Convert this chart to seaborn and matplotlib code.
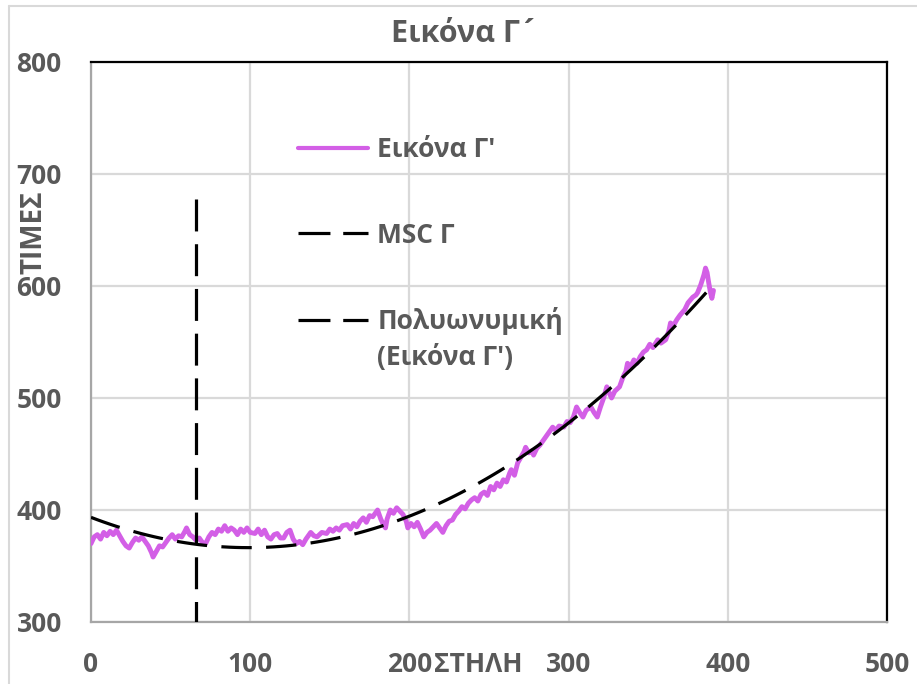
import numpy as np
import pandas as pd
import matplotlib
matplotlib.use("Agg")
import matplotlib.pyplot as plt
from matplotlib.lines import Line2D
import seaborn as sns

# ---------------- data ----------------
x_vals = [0, 2, 4, 6, 8, 10, 12, 14, 16, 18, 20, 22, 24, 26, 28, 30, 32, 34, 36, 38, 39,
          41, 43, 45, 47, 49, 51, 53, 55, 57, 59, 60, 62, 64, 66, 68, 70, 72, 74, 76, 78,
          80, 82, 84, 86, 88, 90, 92, 94, 96, 98, 100, 103, 105, 107, 109, 111, 113, 115,
          117, 119, 121, 123, 125, 127, 129, 131, 133, 135, 138, 140, 142, 145, 148, 150,
          152, 154, 156, 158, 161, 163, 165, 167, 169, 171, 173, 175, 177, 179, 180, 182,
          184, 185, 186, 188, 190, 192, 194, 196, 198, 199, 201, 203, 205, 207, 209, 211,
          213, 215, 217, 219, 221, 223, 225, 227, 229, 231, 233, 235, 237, 239, 241, 243,
          245, 247, 249, 251, 253, 255, 257, 259, 261, 263, 264, 266, 268, 270, 272, 273,
          275, 277, 278, 280, 282, 284, 286, 288, 290, 292, 294, 297, 299, 301, 303, 305,
          307, 309, 311, 313, 314, 316, 318, 320, 322, 324, 326, 327, 329, 332, 334, 336,
          337, 339, 341, 343, 345, 347, 349, 351, 353, 356, 358, 361, 363, 364, 366, 368,
          370, 373, 375, 378, 380, 381, 383, 385, 386, 387, 388, 389, 390, 391]
y_vals = [370, 376, 378, 374, 380, 377, 381, 378, 382, 377, 372, 368, 366, 371, 375, 373,
          376, 372, 368, 362, 358, 363, 368, 367, 371, 375, 378, 374, 377, 376, 381, 384,
          378, 376, 373, 375, 371, 370, 376, 380, 378, 383, 381, 386, 381, 384, 382, 378,
          383, 380, 384, 380, 379, 383, 378, 382, 376, 374, 378, 379, 375, 375, 380, 382,
          374, 370, 372, 369, 374, 380, 377, 376, 380, 379, 383, 381, 384, 382, 386, 387,
          383, 388, 385, 390, 393, 389, 395, 394, 398, 400, 392, 386, 384, 392, 400, 397,
          402, 399, 396, 390, 384, 388, 385, 389, 383, 376, 380, 382, 385, 388, 384, 380,
          386, 390, 391, 396, 399, 403, 401, 406, 409, 411, 408, 414, 416, 413, 421, 418,
          424, 421, 427, 425, 433, 436, 431, 442, 447, 452, 456, 451, 453, 449, 455, 458,
          462, 466, 470, 474, 471, 475, 474, 479, 478, 483, 492, 487, 483, 489, 491, 492,
          487, 483, 492, 500, 510, 503, 500, 506, 510, 518, 524, 531, 528, 534, 531, 537,
          541, 543, 548, 545, 552, 549, 552, 560, 567, 565, 570, 574, 579, 585, 590, 592,
          594, 601, 610, 616, 612, 603, 595, 589, 596]

msc_x = [66, 66]
msc_y = [678, 300]

x_ticks = [0, 100, 200, 300, 400, 500]
y_ticks = [300, 400, 500, 600, 700, 800]

title = "Εικόνα Γ\u00b4"
series_label = "Εικόνα Γ'"
msc_label = "MSC Γ"
trend_label_1 = "Πολυωνυμική"
trend_label_2 = "(Εικόνα Γ')"
x_label = "ΣΤΗΛΗ"
y_label = "ΤΙΜΕΣ"

# ---------------- style ----------------
sns.set_style("white")
plt.rcParams['font.family'] = ['Open Sans', 'DejaVu Sans']
plt.rcParams['font.weight'] = 'bold'

TXT = "#595959"
PINK = "#D35FE6"
GRID = "#D9D9D9"

W, H = 917, 684
fig = plt.figure(figsize=(W / 100, H / 100), dpi=100)
ax = fig.add_axes([91 / W, 1 - 622 / H, (887 - 91) / W, (622 - 62) / H])

df = pd.DataFrame({"x": x_vals, "y": y_vals})

sns.lineplot(data=df, x="x", y="y", ax=ax, color=PINK, lw=3.5, sort=False,
             estimator=None, zorder=3)
sns.regplot(data=df, x="x", y="y", ax=ax, order=2, ci=None, scatter=False,
            truncate=True,
            line_kws=dict(color="black", lw=2.3, dashes=(9.5, 4.5), zorder=4))
sns.lineplot(x=msc_x, y=msc_y, ax=ax, color="black", lw=2.3, dashes=(10, 4),
             estimator=None, sort=False, zorder=4)

ax.set_xlim(0, 500)
ax.set_ylim(300, 800)
ax.set_xticks(x_ticks)
ax.set_yticks(y_ticks)
ax.set_xticklabels([str(t) for t in x_ticks])
ax.set_yticklabels([str(t) for t in y_ticks])
ax.tick_params(axis='both', length=0, labelsize=19, labelcolor=TXT, pad=21)
for lab in ax.get_xticklabels() + ax.get_yticklabels():
    lab.set_fontweight('bold')
ax.set_xlabel("")
ax.set_ylabel("")
ax.grid(True, color=GRID, lw=1.6)
ax.set_axisbelow(True)

for side in ['left', 'bottom']:
    ax.spines[side].set_color("#A6A6A6")
    ax.spines[side].set_linewidth(1.6)
for side in ['top', 'right']:
    ax.spines[side].set_color("black")
    ax.spines[side].set_linewidth(1.6)

# legend
handles = [Line2D([], [], color=PINK, lw=3),
           Line2D([], [], color="black", lw=2.3, dashes=(10, 4)),
           Line2D([], [], color="black", lw=2.3, dashes=(10, 4))]
labels = [series_label, msc_label, trend_label_1]
leg = ax.legend(handles, labels, loc="upper left",
                bbox_to_anchor=(298 / W, 1 - 136 / H), bbox_transform=fig.transFigure,
                frameon=False, fontsize=19, handlelength=2.65, handletextpad=0.35,
                labelspacing=2.22, borderpad=0, borderaxespad=0)
for t in leg.get_texts():
    t.set_color(TXT)
    t.set_fontweight('bold')

fig.canvas.draw()
bb = leg.get_texts()[2].get_window_extent()
fig.text(bb.x0 / W, (bb.y0 - 36) / H, trend_label_2, fontsize=19, color=TXT,
         fontweight='bold', ha='left', va='bottom')

fig.text(465 / W, 1 - 34 / H, title, fontsize=22, color=TXT, fontweight='bold',
         ha='center', va='center')

# x label placed right after the "200" tick label
tl200 = ax.get_xticklabels()[2].get_window_extent()
fig.text((tl200.x1 + 2) / W, (tl200.y0 + tl200.y1) / 2 / H, x_label, fontsize=19,
         color=TXT, fontweight='bold', ha='left', va='center')
fig.text(34 / W, 1 - 232 / H, y_label, fontsize=20, color=TXT, fontweight='bold',
         ha='center', va='center', rotation=90)

# figure frame lines
fig.add_artist(Line2D([9 / W, 9 / W], [0, 1 - 6 / H], color=GRID, lw=1.5,
                      transform=fig.transFigure))
fig.add_artist(Line2D([9 / W, 1], [1 - 6 / H, 1 - 6 / H], color=GRID, lw=1.5,
                      transform=fig.transFigure))

fig.savefig("out.png", dpi=100)
